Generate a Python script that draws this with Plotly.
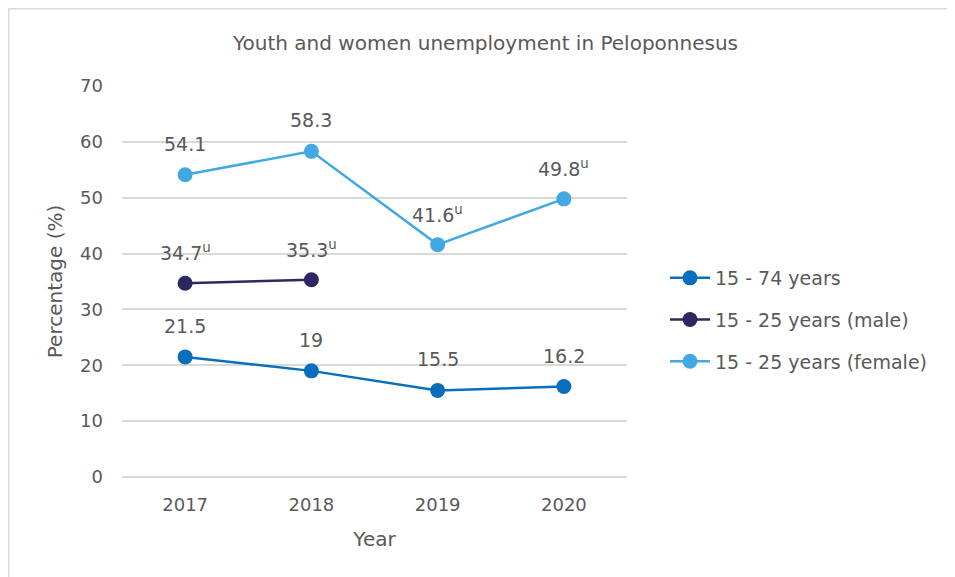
import plotly.graph_objects as go

years = ["2017", "2018", "2019", "2020"]
total_vals = [21.5, 19, 15.5, 16.2]
male_vals = [34.7, 35.3, None, None]
female_vals = [54.1, 58.3, 41.6, 49.8]
total_labels = ["21.5", "19", "15.5", "16.2"]
male_labels = ["34.7<sup>u</sup>", "35.3<sup>u</sup>", None, None]
female_labels = ["54.1", "58.3", "41.6<sup>u</sup>", "49.8<sup>u</sup>"]

names = ["15 - 74 years", "15 - 25 years (male)", "15 - 25 years (female)"]
colors = ["#0A6EBD", "#2D2861", "#41A9E1"]
FONT = "DejaVu Sans"
GREY = "#595959"

L, T, PW, PH = 114, 78, 505, 391
W, H = 955, 577

fig = go.Figure()
series = [(total_vals, total_labels), (male_vals, male_labels), (female_vals, female_labels)]
annotations = []
for k, ((vals, labs), name, col) in enumerate(zip(series, names, colors)):
    fig.add_trace(go.Scatter(
        x=years, y=vals, name=name, mode="lines+markers",
        line=dict(color=col, width=2.5),
        marker=dict(color=col, size=15),
        legendgroup=f"g{k}",
    ))
    for i, (yv, lab) in enumerate(zip(vals, labs)):
        if yv is None:
            continue
        annotations.append(dict(
            x=i, y=yv, text=lab, showarrow=False, xref="x", yref="y",
            yanchor="middle", yshift=31,
            font=dict(family=FONT, size=19, color=GREY),
        ))

fig.update_layout(
    width=W, height=H,
    margin=dict(l=L, r=W - L - PW, t=T, b=H - T - PH),
    paper_bgcolor="white", plot_bgcolor="white",
    font=dict(family=FONT, color=GREY, size=18),
    title=dict(text="Youth and women unemployment in Peloponnesus", x=0.5, xanchor="center",
               y=1 - 35 / H, yanchor="middle", yref="container",
               font=dict(family=FONT, size=20, color=GREY)),
    xaxis=dict(title=dict(text="Year", standoff=17, font=dict(size=20)), type="category",
               range=[-0.5, 3.5], autorange=False,
               showgrid=False, showline=False, ticks="", tickfont=dict(size=18),
               ticklabelstandoff=15),
    yaxis=dict(title=dict(text="Percentage (%)", standoff=12, font=dict(size=20)), range=[0, 70], dtick=10,
               autorange=False,
               showgrid=True, gridcolor="#D9D9D9", gridwidth=1.5, zeroline=True,
               zerolinecolor="#D9D9D9", zerolinewidth=1.5, showline=False, ticks="",
               tickfont=dict(size=18), ticklabelstandoff=18),
    legend=dict(x=(657 - L) / PW, xanchor="left", y=(T + PH - 312) / PH, yanchor="middle",
                font=dict(family=FONT, size=19, color=GREY), tracegroupgap=14,
                itemwidth=40),
    annotations=annotations,
    showlegend=True,
)
# outer chart border (top & left visible in reference)
fig.add_shape(type="line", xref="paper", yref="paper",
              x0=(0.75 - L) / PW, x1=(W - L) / PW, y0=(T + PH - 0.75) / PH, y1=(T + PH - 0.75) / PH,
              line=dict(color="#D9D9D9", width=1.5))
fig.add_shape(type="line", xref="paper", yref="paper",
              x0=(0.75 - L) / PW, x1=(0.75 - L) / PW, y0=(T + PH - 0.75) / PH, y1=(T + PH - H) / PH,
              line=dict(color="#D9D9D9", width=1.5))

fig.write_html("out.html")
